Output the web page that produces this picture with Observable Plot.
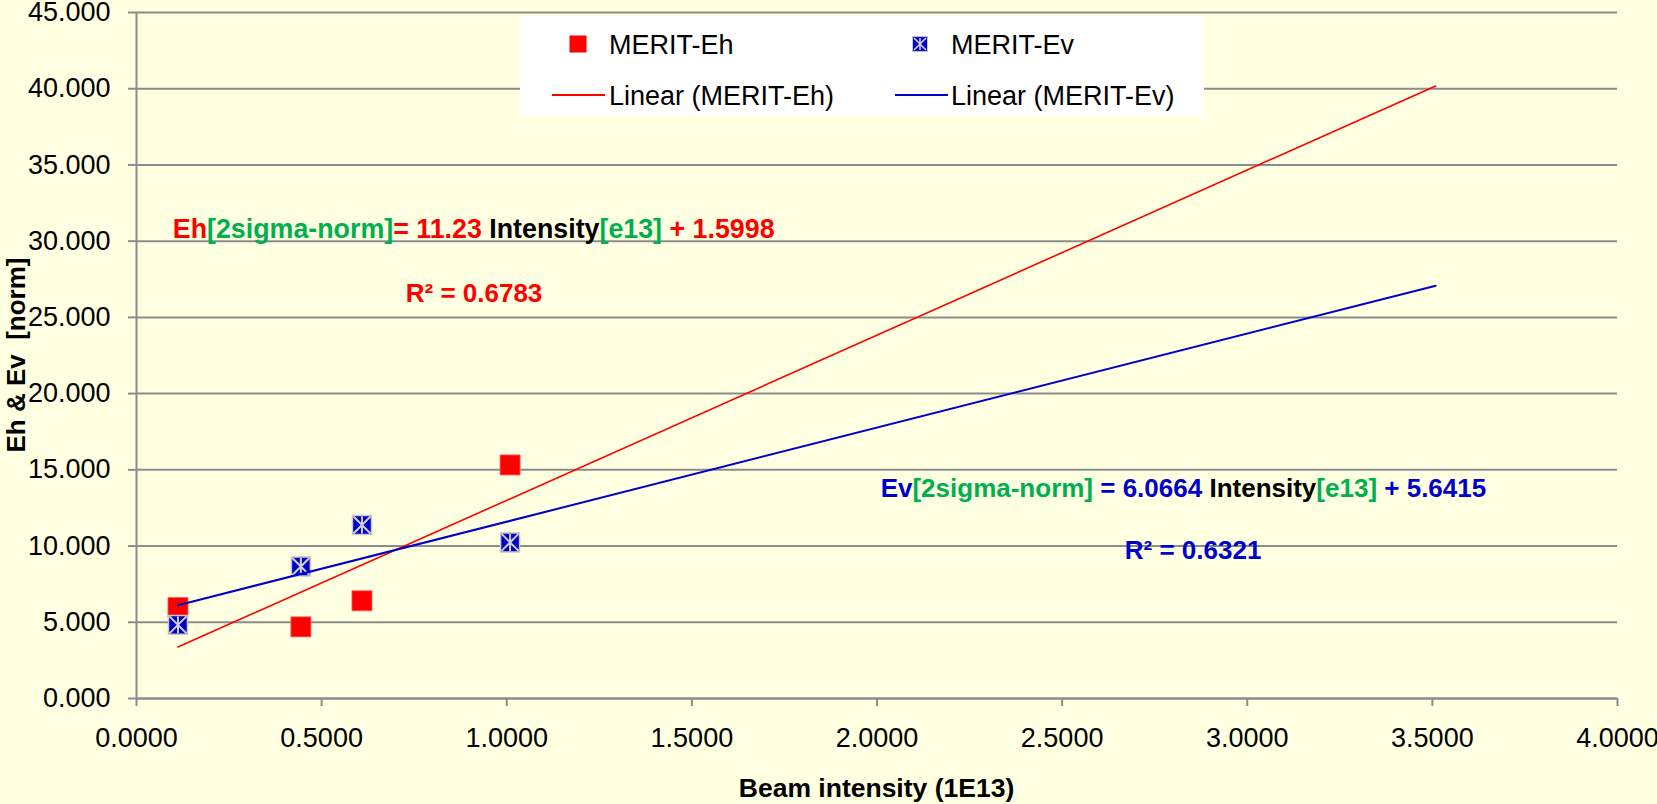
<!DOCTYPE html>
<html><head><meta charset="utf-8">
<script src="https://cdn.jsdelivr.net/npm/d3@7"></script>
<script src="https://cdn.jsdelivr.net/npm/@observablehq/plot@0.6"></script>
<style>
html,body{margin:0;padding:0;background:#FFFFE1;}
#chart svg{display:block;background:#FFFFE1;}
</style></head><body><div id="chart"></div>
<script>
// ---- data ----
const intensity = [0.112, 0.444, 0.609, 1.009];
const ehValues  = [5.97, 4.70, 6.41, 15.32];
const evValues  = [4.83, 8.66, 11.38, 10.24];
const trendX    = [0.112, 3.509];
const ehTrend   = [3.38, 40.18];
const evTrend   = [6.12, 27.08];
const xTicks    = [0, 0.5, 1, 1.5, 2, 2.5, 3, 3.5, 4];
const yTicks    = [0, 5, 10, 15, 20, 25, 30, 35, 40, 45];
const xTitle    = "Beam intensity (1E13)";
const yTitle    = "Eh & Ev  [norm]";
const legendLabels = ["MERIT-Eh", "MERIT-Ev", "Linear (MERIT-Eh)", "Linear (MERIT-Ev)"];
const ehEquation = [["Eh","s"],["[2sigma-norm]","u"],["= 11.23 ","s"],["Intensity","k"],["[e13]","u"],[" + 1.5998","s"]];
const evEquation = [["Ev","s"],["[2sigma-norm]","u"],[" = 6.0664 ","s"],["Intensity","k"],["[e13]","u"],[" + 5.6415","s"]];
const ehR2 = "R² = 0.6783";
const evR2 = "R² = 0.6321";

// ---- styles / layout ----
const RED = "#FF0000", BLUE = "#0000CC", GREEN = "#00B050", GRID = "#8c8c8c", BG = "#FFFFE1";
const FONT = "'Liberation Sans', Arial, sans-serif";
const annPos = {ehEq:[0.912, 30.84], ehR2:[0.913, 26.57], evEq:[2.829, 13.77], evR2:[2.855, 9.70]};

const ehPts = intensity.map((x,i)=>({x, y: ehValues[i]}));
const evPts = intensity.map((x,i)=>({x, y: evValues[i]}));
const ehLine = trendX.map((x,i)=>({x, y: ehTrend[i]}));
const evLine = trendX.map((x,i)=>({x, y: evTrend[i]}));

const asterisk = {draw(ctx, size){ const h = Math.sqrt(size)/2 - 1;
  ctx.moveTo(-h,-h); ctx.lineTo(h,h); ctx.moveTo(-h,h); ctx.lineTo(h,-h);
  ctx.moveTo(0,-h); ctx.lineTo(0,h);}};

const plot = Plot.plot({
  width: 1657, height: 804,
  marginLeft: 136, marginRight: 40, marginTop: 12, marginBottom: 106,
  style: {background: BG, fontFamily: FONT, color: "black"},
  x: {domain: [0, 4]},
  y: {domain: [0, 45]},
  marks: [
    Plot.gridY(yTicks, {stroke: GRID, strokeOpacity: 1, strokeWidth: 2}),
    Plot.ruleY([0], {stroke: GRID, strokeWidth: 2}),
    Plot.ruleX([0], {stroke: GRID, strokeWidth: 2}),
    Plot.axisY(yTicks, {tickSize: 8, tickPadding: 18, fontSize: 27, stroke: GRID, fill: "black", strokeWidth: 2, label: null, tickFormat: d => d.toFixed(3)}),
    Plot.axisX(xTicks, {tickSize: 8, tickPadding: 21, fontSize: 27, stroke: GRID, fill: "black", strokeWidth: 2, label: null, tickFormat: d => d.toFixed(4)}),
    Plot.dot(ehPts, {x: "x", y: "y", symbol: "square", r: 11.3, fill: RED, stroke: "#ff6060", strokeWidth: 0.8}),
    Plot.dot(evPts, {x: "x", y: "y", symbol: "square", r: 10.7, fill: BLUE, stroke: "#c8c8c8", strokeWidth: 1.5}),
    Plot.dot(evPts, {x: "x", y: "y", symbol: asterisk, r: 10.7, fill: "none", stroke: "#d0d0d0", strokeWidth: 2}),
    Plot.line(ehLine, {x: "x", y: "y", stroke: RED, strokeWidth: 1.6}),
    Plot.line(evLine, {x: "x", y: "y", stroke: BLUE, strokeWidth: 2})
  ]
});
document.getElementById("chart").appendChild(plot);

const svg = d3.select(plot);
const sx = plot.scale("x"), sy = plot.scale("y");
const colorOf = (role, series) => role === "u" ? GREEN : role === "k" ? "black" : series;

// axis titles
svg.append("text").attr("x", (sx.apply(0)+sx.apply(4))/2).attr("y", 797)
  .attr("text-anchor","middle").attr("font-size",26.5).attr("font-weight","bold")
  .attr("font-family",FONT).attr("fill","black").text(xTitle);
svg.append("text").attr("transform", `translate(25,${(sy.apply(0)+sy.apply(45))/2}) rotate(-90)`)
  .attr("text-anchor","middle").attr("font-size",26).attr("font-weight","bold")
  .attr("font-family",FONT).attr("fill","black").style("white-space","pre").text(yTitle);

// annotations
function equation(segs, pos, series, fs){
  const t = svg.append("text").attr("x", sx.apply(pos[0])).attr("y", sy.apply(pos[1]))
    .attr("dy","0.36em").attr("text-anchor","middle").attr("font-size",fs).attr("font-weight","bold")
    .attr("font-family",FONT).style("white-space","pre");
  segs.forEach(([s, role]) => t.append("tspan").attr("fill", colorOf(role, series)).text(s));
}
equation(ehEquation, annPos.ehEq, RED, 26.8);
equation(evEquation, annPos.evEq, BLUE, 26);
function r2(txt, pos, series){
  svg.append("text").attr("x", sx.apply(pos[0])).attr("y", sy.apply(pos[1]))
    .attr("dy","0.36em").attr("text-anchor","middle").attr("font-size",26).attr("font-weight","bold")
    .attr("font-family",FONT).attr("fill",series).text(txt);
}
r2(ehR2, annPos.ehR2, RED);
r2(evR2, annPos.evR2, BLUE);

// legend
const lg = svg.append("g").attr("font-family",FONT).attr("font-size",27).attr("text-anchor","start");
lg.append("rect").attr("x",520).attr("y",16).attr("width",684).attr("height",100).attr("fill","white");
const row1 = 44, row2 = 95;
lg.append("rect").attr("x",578-8.5).attr("y",row1-8.5).attr("width",17).attr("height",17).attr("fill",RED);
lg.append("rect").attr("x",920-7.5).attr("y",row1-7.5).attr("width",15).attr("height",15).attr("fill",BLUE).attr("stroke","#c8c8c8");
lg.append("path").attr("d",`M${920-6},${row1-6}L${920+6},${row1+6}M${920-6},${row1+6}L${920+6},${row1-6}M920,${row1-6}L920,${row1+6}`)
  .attr("stroke","#d0d0d0").attr("stroke-width",1.6);
lg.append("line").attr("x1",552).attr("x2",605).attr("y1",row2).attr("y2",row2).attr("stroke",RED).attr("stroke-width",2);
lg.append("line").attr("x1",895).attr("x2",948).attr("y1",row2).attr("y2",row2).attr("stroke",BLUE).attr("stroke-width",2);
[[609,row1,0],[951,row1,1],[609,row2,2],[951,row2,3]].forEach(([x,y,i]) =>
  lg.append("text").attr("x",x).attr("y",y).attr("dy","0.36em").attr("text-anchor","start").attr("fill","black").text(legendLabels[i]));
</script></body></html>
